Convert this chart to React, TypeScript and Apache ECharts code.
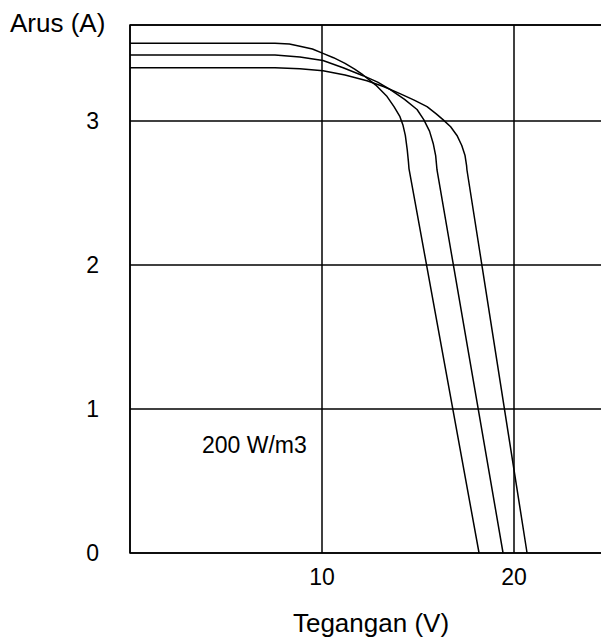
import React, { useEffect, useRef } from "react";
import * as echarts from "echarts";

const xTicks = [0, 10, 20];
const yTicks = [0, 1, 2, 3];

const curveA: [number, number][] = [
  [0, 3.54], [7.55, 3.54], [8.3, 3.535], [8.85, 3.52], [9.5, 3.5], [10.05, 3.47], [10.6, 3.44],
  [11.2, 3.4], [11.7, 3.36], [12.14, 3.32], [12.8, 3.25], [13.39, 3.17], [13.75, 3.1],
  [14.06, 3.03], [14.22, 2.97], [14.34, 2.9], [14.44, 2.8], [14.5, 2.72], [14.53, 2.67], [18.18, 0],
];
const curveB: [number, number][] = [
  [0, 3.458], [7.55, 3.458], [8.85, 3.445], [10.05, 3.42], [11.1, 3.37], [12.14, 3.315],
  [12.9, 3.27], [13.54, 3.22], [14.3, 3.15], [14.95, 3.08], [15.3, 3.01], [15.6, 2.93],
  [15.8, 2.84], [15.92, 2.76], [15.99, 2.66], [19.43, 0],
];
const curveC: [number, number][] = [
  [0, 3.37], [7.55, 3.37], [8.85, 3.363], [10.05, 3.35], [11.2, 3.32], [12.34, 3.28],
  [13.2, 3.24], [14.06, 3.19], [14.8, 3.145], [15.47, 3.1], [15.95, 3.05], [16.3, 3.01],
  [16.7, 2.96], [17.03, 2.9], [17.28, 2.83], [17.45, 2.76], [17.53, 2.69], [17.55, 2.66], [20.68, 0],
];

const FONT = "'Liberation Sans', Arial, sans-serif";

export default function App() {
  const ref = useRef<HTMLDivElement>(null);
  useEffect(() => {
    if (!ref.current) return;
    document.body.style.overflow = "hidden";
    const chart = echarts.init(ref.current, null, { renderer: "svg" });
    const lineSeries = (data: [number, number][]) => ({
      type: "line",
      data,
      showSymbol: false,
      symbol: "none",
      smooth: false,
      lineStyle: { color: "#000", width: 1.5 },
    });
    chart.setOption({
      animation: false,
      backgroundColor: "#fff",
      grid: {
        left: 130, right: 0, top: 25, bottom: 87,
        show: true, borderColor: "#000", borderWidth: 1.5, backgroundColor: "transparent",
      },
      xAxis: {
        type: "value", min: xTicks[0], max: 25, interval: 10,
        axisLine: { show: false }, axisTick: { show: false },
        splitLine: { show: true, lineStyle: { color: "#000", width: 1.5 } },
        axisLabel: {
          showMinLabel: false, showMaxLabel: false, color: "#000", fontSize: 23,
          fontFamily: FONT, margin: 12,
          formatter: (v: number) => (xTicks.includes(v) ? String(v) : ""),
        },
      },
      yAxis: {
        type: "value", min: yTicks[0], max: 3.667, interval: 1,
        axisLine: { show: false }, axisTick: { show: false },
        splitLine: { show: true, lineStyle: { color: "#000", width: 1.5 } },
        axisLabel: {
          showMaxLabel: false, color: "#000", fontSize: 23, fontFamily: FONT, margin: 31,
          formatter: (v: number) => (yTicks.includes(v) ? String(v) : ""),
        },
      },
      graphic: [
        { type: "text", left: 10, top: 10, style: { text: "Arus (A)", fontSize: 26, fontFamily: FONT, fill: "#000" } },
        { type: "text", x: 371, y: 623, style: { text: "Tegangan (V)", fontSize: 26, fontFamily: FONT, fill: "#000", align: "center", verticalAlign: "middle" } },
        { type: "text", x: 202, y: 445, style: { text: "200 W/m3", fontSize: 23, fontFamily: FONT, fill: "#000", align: "left", verticalAlign: "middle" } },
      ],
      series: [lineSeries(curveA), lineSeries(curveB), lineSeries(curveC)],
    });
    return () => chart.dispose();
  }, []);
  return <div ref={ref} style={{ position: "fixed", left: 0, top: 0, width: 610, height: 640 }} />;
}
